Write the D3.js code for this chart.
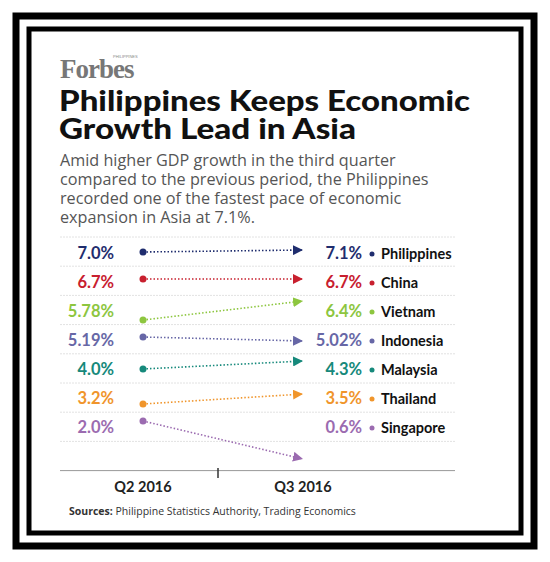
<!DOCTYPE html>
<html><head><meta charset="utf-8">
<script src="https://cdn.jsdelivr.net/npm/d3@7"></script>
<style>body{margin:0;background:#fff}</style>
</head><body>
<script>
var countries = ["Philippines", "China", "Vietnam", "Indonesia", "Malaysia", "Thailand", "Singapore"];
var q2 = [7.0, 6.7, 5.78, 5.19, 4.0, 3.2, 2.0];
var q3 = [7.1, 6.7, 6.4, 5.02, 4.3, 3.5, 0.6];
var q2Labels = ["7.0%", "6.7%", "5.78%", "5.19%", "4.0%", "3.2%", "2.0%"];
var q3Labels = ["7.1%", "6.7%", "6.4%", "5.02%", "4.3%", "3.5%", "0.6%"];
var colors = ["#1f2d6e", "#c8202f", "#8dc63f", "#6767a6", "#16897b", "#f0952b", "#9b6bb0"];
var periods = ["Q2 2016", "Q3 2016"];

var svg = d3.select('body').append('svg').attr('width', 550).attr('height', 562);

// frame
svg.append('rect').attr('x', 16).attr('y', 16).attr('width', 518).attr('height', 530)
    .attr('fill', 'none').attr('stroke', '#000').attr('stroke-width', 7);
svg.append('rect').attr('x', 29).attr('y', 29).attr('width', 492).attr('height', 504)
    .attr('fill', 'none').attr('stroke', '#000').attr('stroke-width', 5);

svg.append('text').attr('x', 60).attr('y', 78).text('Forbes')
    .attr('font-family', 'Liberation Serif').attr('font-weight', 'bold')
    .attr('font-size', 27).attr('fill', '#777').attr('letter-spacing', -1);
svg.append('text').attr('x', 113).attr('y', 58).text('PHILIPPINES')
    .attr('font-family', 'Liberation Sans').attr('font-size', 4).attr('fill', '#888');

var title = [["Philippines Keeps Economic", 411], ["Growth Lead in Asia", 297]];
title.forEach(function(t, i) {
    svg.append('text').attr('x', 59).attr('y', 111 + i * 28).text(t[0])
        .attr('textLength', t[1]).attr('lengthAdjust', 'spacingAndGlyphs')
        .attr('font-family', 'Lato').attr('font-weight', 900)
        .attr('font-size', 29).attr('fill', '#111');
});
var sub = ["Amid higher GDP growth in the third quarter",
    "compared to the previous period, the Philippines",
    "recorded one of the fastest pace of economic",
    "expansion in Asia at 7.1%."];
sub.forEach(function(t, i) {
    svg.append('text').attr('x', 60).attr('y', 166 + i * 19).text(t)
        .attr('font-family', 'Open Sans').attr('font-size', 16.2).attr('fill', '#555');
});

var rowY = d3.scalePoint().domain(countries).range([254, 428]);
var y = d3.scaleLinear()
    .domain([0.6, 2.0, 3.2, 3.5, 4.0, 4.3, 5.02, 5.19, 5.78, 6.4, 6.7, 7.0, 7.1])
    .range([459, 421, 404, 394, 369, 361, 341, 337, 320, 301, 279, 252, 250]);
var x = d3.scalePoint().domain(periods).range([143, 303]);

// row separators
d3.range(countries.length + 2).forEach(function(i) {
    var yy = 237 + i * 29.2;
    svg.append('line').attr('x1', 60).attr('x2', 455).attr('y1', yy).attr('y2', yy)
        .attr('stroke', i == countries.length + 1 ? '#999' : '#e2e2e2')
        .attr('stroke-dasharray', i == countries.length + 1 ? null : '2,1');
});

var defs = svg.append('defs');
colors.forEach(function(c, i) {
    defs.append('marker').attr('id', 'a' + i).attr('viewBox', '0 0 10 10')
        .attr('refX', 10).attr('refY', 5).attr('markerWidth', 10).attr('markerHeight', 10)
        .attr('markerUnits', 'userSpaceOnUse').attr('orient', 'auto')
        .append('path').attr('d', 'M0,0L10,5L0,10Z').attr('fill', c);
});

var g = svg.selectAll('.row').data(countries).enter().append('g');
g.append('line')
    .attr('x1', x(periods[0])).attr('y1', (d, i) => y(q2[i]))
    .attr('x2', x(periods[1])).attr('y2', (d, i) => y(q3[i]))
    .attr('stroke', (d, i) => colors[i]).attr('stroke-width', 1.6)
    .attr('stroke-dasharray', '1.5,2')
    .attr('marker-end', (d, i) => 'url(#a' + i + ')');
g.append('circle').attr('cx', x(periods[0])).attr('cy', (d, i) => y(q2[i]))
    .attr('r', 3.5).attr('fill', (d, i) => colors[i]);

var font = "Lato";
g.append('text').attr('x', 114).attr('y', d => rowY(d) + 5).attr('text-anchor', 'end')
    .text((d, i) => q2Labels[i]).attr('fill', (d, i) => colors[i])
    .attr('font-family', font).attr('font-weight', 'bold').attr('font-size', 16.5);
g.append('text').attr('x', 362).attr('y', d => rowY(d) + 5).attr('text-anchor', 'end')
    .text((d, i) => q3Labels[i]).attr('fill', (d, i) => colors[i])
    .attr('font-family', font).attr('font-weight', 'bold').attr('font-size', 16.5);
g.append('circle').attr('cx', 372).attr('cy', d => rowY(d)).attr('r', 2.5)
    .attr('fill', (d, i) => colors[i]);
g.append('text').attr('x', 381).attr('y', d => rowY(d) + 5).text(d => d)
    .attr('fill', '#111').attr('font-family', font).attr('font-weight', 'bold').attr('font-size', 14.5);

// axis
svg.append('line').attr('x1', 218).attr('x2', 218).attr('y1', 468).attr('y2', 478)
    .attr('stroke', '#333').attr('stroke-width', 1.5);
periods.forEach(function(p) {
    svg.append('text').attr('x', x(p)).attr('y', 492).attr('text-anchor', 'middle').text(p)
        .attr('font-family', font).attr('font-weight', 'bold').attr('font-size', 14.5).attr('fill', '#222');
});

var src = svg.append('text').attr('x', 69).attr('y', 515).attr('font-size', 10.5)
    .attr('font-family', 'Open Sans').attr('fill', '#333');
src.append('tspan').attr('font-weight', 'bold').text('Sources: ');
src.append('tspan').text('Philippine Statistics Authority, Trading Economics');
</script>
</body></html>
